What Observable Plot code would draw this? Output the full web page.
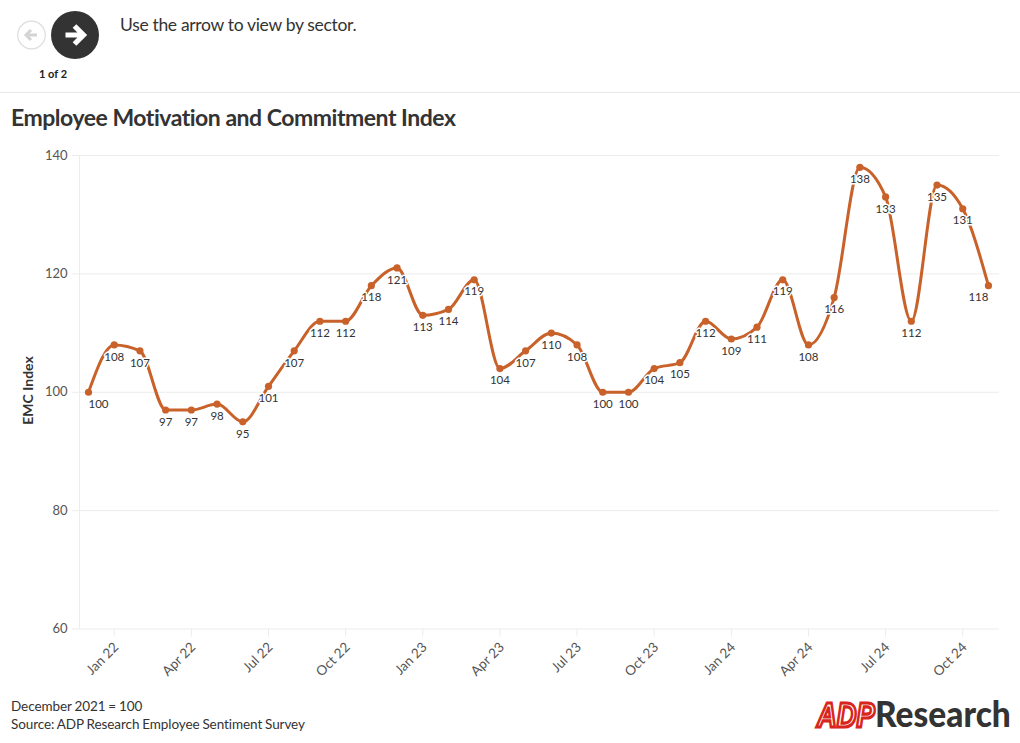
<!DOCTYPE html>
<html><head><meta charset="utf-8">
<script src="https://cdn.jsdelivr.net/npm/d3@7"></script>
<script src="https://cdn.jsdelivr.net/npm/@observablehq/plot@0.6"></script>
<style>
html,body{margin:0;padding:0;background:#fff;font-family:"Lato","Noto Sans",sans-serif;color:#333;}
body{width:1020px;height:743px;position:relative;overflow:hidden;}
.abs{position:absolute;white-space:nowrap;}
#chart{position:absolute;left:0;top:140px;}
#chart svg{display:block;}
</style></head><body>
<svg class="abs" style="left:0;top:0" width="110" height="62">
  <circle cx="31.5" cy="35" r="13.8" fill="#fff" stroke="#ddd" stroke-width="1.2"/>
  <path d="M37 35H27M31 30l-5 5 5 5" fill="none" stroke="#d4d4d4" stroke-width="3"/>
  <circle cx="75" cy="35" r="24" fill="#333"/>
  <path d="M65.5 35H82M74.5 26l9 9-9 9" fill="none" stroke="#fff" stroke-width="5.2"/>
</svg>
<div class="abs" style="left:120px;top:14px;font-size:17.5px;line-height:22px;letter-spacing:-0.32px;">Use the arrow to view by sector.</div>
<div class="abs" style="left:39px;top:67px;font-size:11px;line-height:14px;font-weight:700;color:#222">1 of 2</div>
<div class="abs" style="left:0;top:92px;width:1020px;height:1px;background:#e8e8e8"></div>
<div class="abs" style="left:11px;top:103px;font-size:23px;line-height:28px;font-weight:700;letter-spacing:-0.48px;">Employee Motivation and Commitment Index</div>
<div id="chart"></div>
<div class="abs" style="left:11px;top:697px;font-size:13.5px;line-height:18px;color:#333;letter-spacing:-0.08px;word-spacing:-0.5px">December 2021 = 100<br>Source: ADP Research Employee Sentiment Survey</div>
<svg class="abs" style="left:810px;top:692px" width="205" height="42">
  <g transform="translate(7,34.5) scale(0.76,1)"><text font-family="Liberation Sans" font-weight="700" font-style="italic" font-size="36" fill="#fff" stroke="#d9261c" stroke-width="3.2">ADP</text></g>
  <g transform="translate(65,34.5) scale(0.93,1)"><text font-family="Lato" font-weight="900" font-size="36" fill="#333">Research</text></g>
</svg>
<script>
const months = ["Dec 21","Jan 22","Feb 22","Mar 22","Apr 22","May 22","Jun 22","Jul 22","Aug 22","Sep 22","Oct 22","Nov 22","Dec 22","Jan 23","Feb 23","Mar 23","Apr 23","May 23","Jun 23","Jul 23","Aug 23","Sep 23","Oct 23","Nov 23","Dec 23","Jan 24","Feb 24","Mar 24","Apr 24","May 24","Jun 24","Jul 24","Aug 24","Sep 24","Oct 24","Nov 24"];
const emc = [100,108,107,97,97,98,95,101,107,112,112,118,121,113,114,119,104,107,110,108,100,100,104,105,112,109,111,119,108,116,138,133,112,135,131,118];
const tickMonths = ["Jan 22","Apr 22","Jul 22","Oct 22","Jan 23","Apr 23","Jul 23","Oct 23","Jan 24","Apr 24","Jul 24","Oct 24"];
const yTicks = [60,80,100,120,140];

const data = months.map((m,i)=>({i, m, v: emc[i]}));
const lineColor = "#c8622a", gridColor = "#ececec", textColor = "#555";
const xMin = -0.35, xMax = 35.43;
const mid = data.slice(1,-1), first = data.slice(0,1), last = data.slice(-1);
const labelOpts = {x:"i", y:"v", text:d=>String(d.v), fontSize:11.5, fill:"#333", stroke:"#fff", strokeWidth:3, dy:12};
const xTickIdx = tickMonths.map(t=>months.indexOf(t));

const chart = Plot.plot({
  width:1020, height:550,
  marginTop:15, marginBottom:61.5, marginLeft:79, marginRight:21,
  style:{fontFamily:"Lato, 'Noto Sans', sans-serif", background:"transparent", overflow:"visible"},
  x:{type:"linear", domain:[xMin,xMax]},
  y:{domain:[60,140]},
  marks:[
    Plot.gridY(yTicks,{stroke:gridColor, strokeOpacity:1}),
    Plot.ruleX([xMin],{stroke:gridColor}),
    Plot.axisY({ticks:yTicks, label:null, tickSize:7, tickPadding:5, stroke:gridColor, fill:textColor, fontSize:13, color:textColor}),
    Plot.axisX({ticks:xTickIdx, text:null, label:null, tickSize:8, stroke:gridColor}),
    Plot.axisX({ticks:xTickIdx, tickFormat:i=>months[i], label:null, tickSize:0, fill:textColor, fontSize:13.5, tickRotate:-45, tickPadding:16, dx:2}),
    Plot.text(["EMC Index"],{frameAnchor:"left", y:[100.3], dx:-51, rotate:-90, textAnchor:"middle", fontWeight:700, fontSize:14, fill:"#333", text:d=>d}),
    Plot.line(data,{x:"i", y:"v", stroke:lineColor, strokeWidth:3, curve:"monotone-x"}),
    Plot.text(mid,labelOpts),
    Plot.text(first,{...labelOpts, dx:10}),
    Plot.text(last,{...labelOpts, dx:-10}),
    Plot.dot(data,{x:"i", y:"v", r:3.6, fill:lineColor, stroke:null})
  ]
});
document.getElementById("chart").appendChild(chart);
</script>
</body></html>
